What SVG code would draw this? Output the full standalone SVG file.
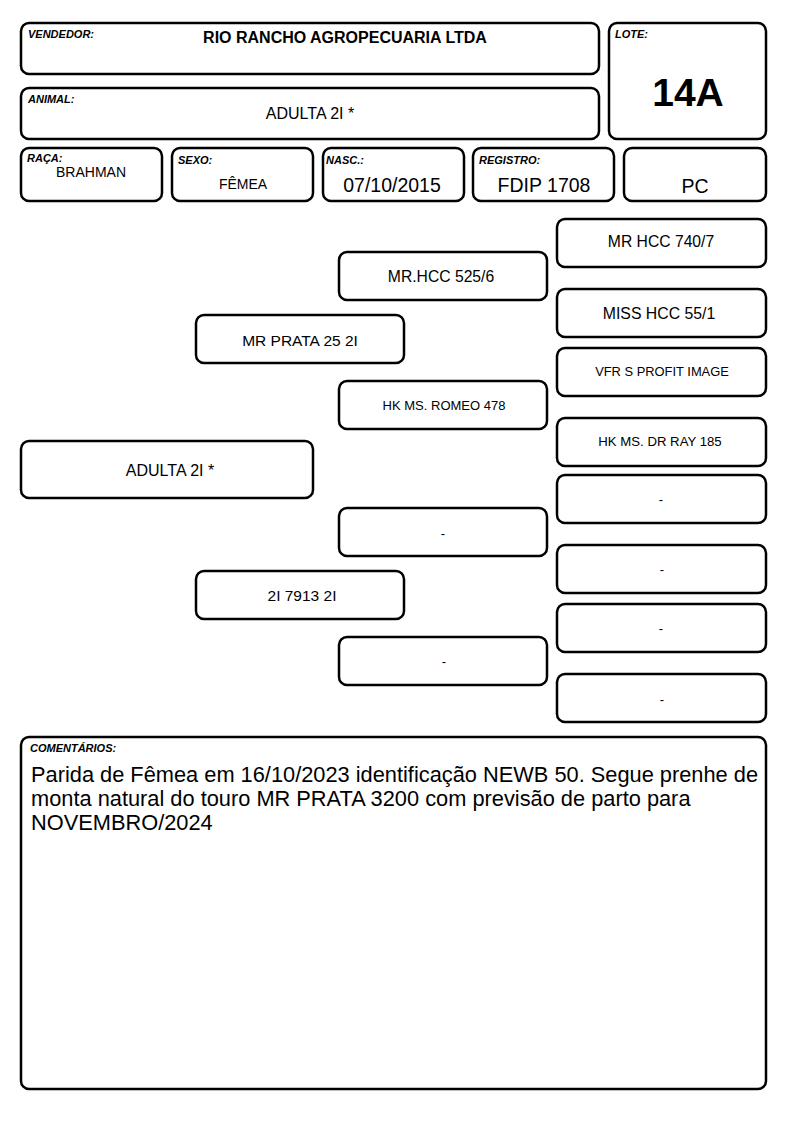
<svg xmlns="http://www.w3.org/2000/svg" width="794" height="1123" viewBox="0 0 794 1123">
<style>
.b{fill:#fff;stroke:#000;stroke-width:2.5}
.t{font-family:"Liberation Sans",Arial,sans-serif;fill:#000;text-anchor:middle}
.l{font-family:"Liberation Sans",Arial,sans-serif;font-weight:bold;font-style:italic;font-size:11px;fill:#000}
</style>
<rect width="794" height="1123" fill="#fff"/>
<g id="vendedor"><rect class="b" x="21" y="23" width="578" height="51" rx="8"/><text class="l" x="28" y="38">VENDEDOR:</text><text class="t" x="345" y="43" font-size="16" font-weight="bold">RIO RANCHO AGROPECUARIA LTDA</text></g>
<g id="animal"><rect class="b" x="21" y="88" width="578" height="51" rx="8"/><text class="l" x="28" y="103">ANIMAL:</text><text class="t" x="310" y="119" font-size="16">ADULTA 2I *</text></g>
<g id="lote"><rect class="b" x="609" y="23" width="157" height="116" rx="8"/><text class="l" x="615" y="38">LOTE:</text><text class="t" x="688" y="106" font-size="39" font-weight="bold">14A</text></g>
<g id="raca"><rect class="b" x="21" y="148" width="141" height="53" rx="8"/><text class="l" x="27" y="162">RAÇA:</text><text class="t" x="91" y="177" font-size="14">BRAHMAN</text></g>
<g id="sexo"><rect class="b" x="172" y="148" width="141" height="53" rx="8"/><text class="l" x="178" y="164">SEXO:</text><text class="t" x="243" y="189" font-size="14">FÊMEA</text></g>
<g id="nasc"><rect class="b" x="323" y="148" width="141" height="53" rx="8"/><text class="l" x="326" y="164">NASC.:</text><text class="t" x="392" y="192" font-size="19.5">07/10/2015</text></g>
<g id="registro"><rect class="b" x="473" y="148" width="141" height="53" rx="8"/><text class="l" x="479" y="164">REGISTRO:</text><text class="t" x="544" y="192" font-size="19.5">FDIP 1708</text></g>
<g id="pc"><rect class="b" x="624" y="148" width="142" height="53" rx="8"/><text class="t" x="695" y="193" font-size="19.5">PC</text></g>

<g id="n-animal"><rect class="b" x="21" y="441" width="292" height="57" rx="8"/><text class="t" x="170" y="476" font-size="16">ADULTA 2I *</text></g>
<g id="n-pai"><rect class="b" x="196" y="315" width="208" height="48" rx="8"/><text class="t" x="300" y="346" font-size="15.5">MR PRATA 25 2I</text></g>
<g id="n-mae"><rect class="b" x="196" y="571" width="208" height="48" rx="8"/><text class="t" x="302" y="601" font-size="15" textLength="69" lengthAdjust="spacingAndGlyphs">2I 7913 2I</text></g>
<g id="n-avo1"><rect class="b" x="339" y="252" width="208" height="48" rx="8"/><text class="t" x="441" y="282" font-size="15.7">MR.HCC 525/6</text></g>
<g id="n-avo2"><rect class="b" x="339" y="381" width="208" height="48" rx="8"/><text class="t" x="444" y="410" font-size="13">HK MS. ROMEO 478</text></g>
<g id="n-avo3"><rect class="b" x="339" y="508" width="208" height="48" rx="8"/><text class="t" x="443" y="538" font-size="13">-</text></g>
<g id="n-avo4"><rect class="b" x="339" y="637" width="208" height="48" rx="8"/><text class="t" x="444" y="666" font-size="13">-</text></g>
<g id="n-b1"><rect class="b" x="557" y="219" width="209" height="48" rx="8"/><text class="t" x="661" y="247" font-size="15.7">MR HCC 740/7</text></g>
<g id="n-b2"><rect class="b" x="557" y="289" width="209" height="48" rx="8"/><text class="t" x="659" y="319" font-size="15.8">MISS HCC 55/1</text></g>
<g id="n-b3"><rect class="b" x="557" y="348" width="209" height="48" rx="8"/><text class="t" x="662" y="376" font-size="12.9">VFR S PROFIT IMAGE</text></g>
<g id="n-b4"><rect class="b" x="557" y="418" width="209" height="48" rx="8"/><text class="t" x="660" y="446" font-size="13.2">HK MS. DR RAY 185</text></g>
<g id="n-b5"><rect class="b" x="557" y="475" width="209" height="48" rx="8"/><text class="t" x="661" y="504" font-size="13">-</text></g>
<g id="n-b6"><rect class="b" x="557" y="545" width="209" height="48" rx="8"/><text class="t" x="662" y="574" font-size="13">-</text></g>
<g id="n-b7"><rect class="b" x="557" y="604" width="209" height="48" rx="8"/><text class="t" x="661" y="633" font-size="13">-</text></g>
<g id="n-b8"><rect class="b" x="557" y="674" width="209" height="48" rx="8"/><text class="t" x="662" y="704" font-size="13">-</text></g>
<g id="connectors"></g>

<g id="comentarios"><rect class="b" x="21" y="737" width="745" height="352" rx="8"/><text class="l" x="30" y="752">COMENTÁRIOS:</text>
<text font-family="'Liberation Sans',Arial,sans-serif" font-size="21.8" fill="#000"><tspan x="31" y="782">Parida de Fêmea em 16/10/2023 identificação NEWB 50. Segue prenhe de</tspan><tspan x="31" y="806">monta natural do touro MR PRATA 3200 com previsão de parto para</tspan><tspan x="31" y="830">NOVEMBRO/2024</tspan></text></g>
</svg>
